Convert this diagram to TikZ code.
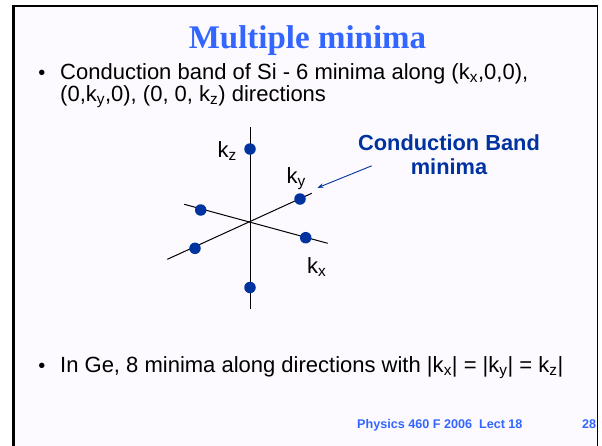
\documentclass[tikz,border=0pt]{standalone}
\usepackage{fontspec}
\setmainfont{Liberation Sans}
\newfontfamily\titlefont{Liberation Serif}
\usetikzlibrary{arrows.meta}
\definecolor{titleblue}{RGB}{51,102,255}
\definecolor{darkblue}{RGB}{0,51,160}
\definecolor{bgpage}{RGB}{252,250,255}
\tikzset{
  dot/.style={circle,fill=darkblue,inner sep=0pt,minimum size=11.5pt},
  axis/.style={line width=1pt,black},
  bodytext/.style={anchor=base west,inner sep=0pt,font=\fontsize{22}{24}\selectfont},
  klabel/.style={anchor=base west,inner sep=0pt,font=\fontsize{22}{24}\selectfont},
  footer/.style={anchor=base west,inner sep=0pt,text=titleblue,font=\bfseries\fontsize{12.6}{14}\selectfont},
}
\begin{document}
\begin{tikzpicture}[x=1pt,y=-1pt]
\useasboundingbox (0,0) rectangle (602,445);
\fill[white] (0,0) rectangle (602,445);
\fill[bgpage] (13,6) rectangle (597.5,450);
\draw[line width=3pt] (13.5,450) -- (13.5,6);
\draw[line width=2pt] (12,6) -- (598.2,6);
\draw[line width=1.5pt] (597.5,5) -- (597.5,450);
% title
\node[anchor=base,inner sep=0pt,text=titleblue,font=\titlefont\bfseries\fontsize{33}{36}\selectfont] (title) at (307.5,48) {Multiple minima};
% bullets
\node[anchor=base,inner sep=0pt,font=\fontsize{20}{21}\selectfont] (b1) at (42,79) {\textbullet};
\node[bodytext] (l1) at (60,79) {Conduction band of Si - 6 minima along (k\textsubscript{x},0,0),};
\node[bodytext] (l2) at (60,101) {(0,k\textsubscript{y},0), (0, 0, k\textsubscript{z}) directions};
\node[anchor=base,inner sep=0pt,font=\fontsize{20}{21}\selectfont] (b2) at (42,372) {\textbullet};
\node[bodytext] (l3) at (60,372) {In Ge, 8 minima along directions with |k\textsubscript{x}| = |k\textsubscript{y}| = k\textsubscript{z}|};
% axes
\coordinate (ztop) at (250,127);
\coordinate (zbot) at (250,309);
\coordinate (xa) at (184.3,204.3);
\coordinate (xb) at (327.7,243.3);
\coordinate (ya) at (167.3,259.3);
\coordinate (yb) at (311.7,193.3);
\draw[axis] (ztop) -- (zbot);
\draw[axis] (xa) -- (xb);
\draw[axis] (ya) -- (yb);
% minima
\node[dot] (zp) at (250,149) {};
\node[dot] (zm) at (250,287.5) {};
\node[dot] (xm) at (200.7,210) {};
\node[dot] (xp) at (305.7,237.7) {};
\node[dot] (ym) at (195,248.3) {};
\node[dot] (yp) at (300,199) {};
% labels
\node[klabel] (kz) at (217.5,157) {k\textsubscript{z}};
\node[klabel] (ky) at (286.5,183) {k\textsubscript{y}};
\node[klabel] (kx) at (307,273) {k\textsubscript{x}};
% callout
\node[align=center,inner sep=0pt,text=darkblue,font=\bfseries\fontsize{21.8}{24}\selectfont] (cb) at (449,155) {Conduction Band\\minima};
\coordinate (arrstart) at (371.7,165.8);
\coordinate (arrend) at (317.5,187.8);
\draw[darkblue,line width=0.9pt,-{Stealth[length=6pt,width=4.5pt]}] (arrstart) -- (arrend);
% footer
\node[footer] (ft) at (357,428) {Physics 460 F 2006\ \ Lect 18};
\node[footer] (pg) at (582,428) {28};
\end{tikzpicture}
\end{document}
